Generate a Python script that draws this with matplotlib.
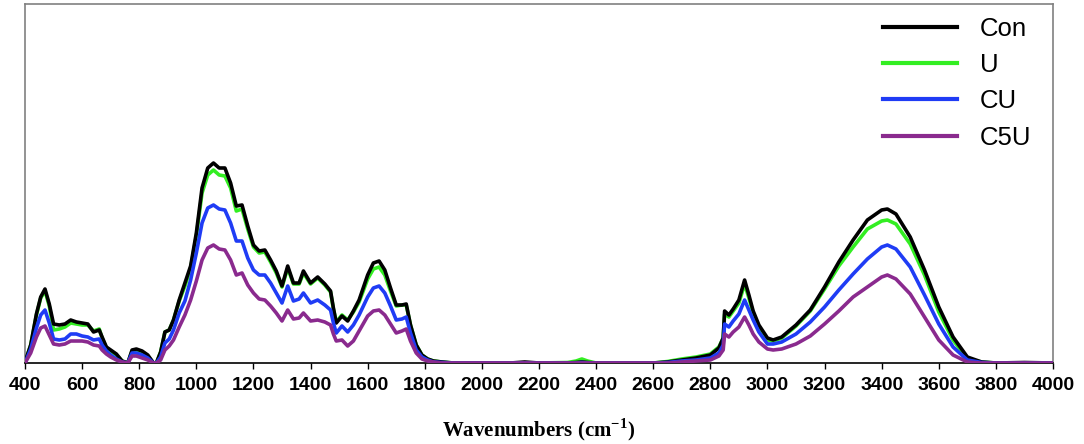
import numpy as np
import matplotlib
matplotlib.use('Agg')
import matplotlib.pyplot as plt

# wavenumber grid (cm-1) shared by all four spectra
wavenumber = [
    400, 420, 440, 455, 470, 485, 500, 520, 540, 560,
    580, 600, 620, 640, 660, 670, 685, 700, 720, 740,
    760, 775, 790, 810, 830, 850, 860, 875, 890, 905,
    920, 940, 960, 980, 1000, 1020, 1040, 1060, 1080, 1100,
    1120, 1140, 1160, 1180, 1200, 1220, 1240, 1260, 1280, 1300,
    1320, 1340, 1360, 1375, 1400, 1425, 1450, 1470, 1480, 1490,
    1510, 1530, 1550, 1570, 1600, 1620, 1640, 1660, 1680, 1700,
    1720, 1735, 1750, 1770, 1790, 1810, 1830, 1860, 1900, 2000,
    2100, 2150, 2200, 2300, 2330, 2350, 2370, 2400, 2500, 2600,
    2650, 2700, 2750, 2800, 2830, 2845, 2850, 2865, 2880, 2900,
    2920, 2935, 2950, 2970, 3000, 3020, 3050, 3100, 3150, 3200,
    3250, 3300, 3350, 3400, 3420, 3450, 3500, 3550, 3600, 3650,
    3700, 3750, 3800, 3900, 4000,
]

# absorbance (arbitrary units)
con = [
    1, 18, 49, 66, 74, 59, 39, 38, 39, 43,
    41, 40, 39, 31, 33, 26, 16, 13, 9, 2,
    0, 13, 14, 12, 8, 0, 0, 11, 31, 33,
    43, 63, 80, 97, 130, 175, 195, 200, 195, 195,
    180, 157, 158, 137, 118, 112, 113, 103, 92, 77,
    97, 80, 80, 92, 80, 86, 79, 72, 55, 40,
    47, 42, 52, 63, 88, 100, 102, 93, 75, 58,
    58, 59, 38, 18, 8, 4, 2, 1, 0, 0,
    0, 1, 0, 0, 0.5, 1, 0.5, 0, 0, 0,
    1, 3, 5, 8, 15, 25, 52, 48, 54, 63,
    83, 68, 52, 38, 25, 23, 26, 38, 53, 76,
    101, 123, 143, 153, 154, 149, 126, 93, 56, 26,
    6, 1, 0, 0.5, 0,
]
u = [
    1, 18, 48, 65, 72, 57, 33, 34, 36, 40,
    39, 38, 38, 32, 34, 25, 15, 12, 8, 2,
    0, 12, 13, 11, 7, 0, 0, 11, 31, 33,
    43, 62, 77, 95, 127, 170, 188, 193, 188, 187,
    175, 152, 154, 134, 116, 110, 111, 101, 90, 76,
    95, 79, 79, 90, 79, 85, 78, 71, 54, 41,
    48, 43, 51, 61, 84, 94, 96, 88, 72, 57,
    58, 58, 38, 18, 8, 4, 2, 1, 0, 0,
    0, 0, 0, 0.5, 2, 4, 2, 0, 0, 0,
    1.5, 4, 6, 9, 16, 25, 49, 46, 52, 60,
    79, 65, 50, 36, 23, 22, 25, 37, 52, 74,
    97, 116, 134, 142, 143, 139, 119, 88, 51, 23,
    4, 1, 0, 0, 0,
]
cu = [
    0, 14, 35, 48, 53, 40, 24, 23, 24, 29,
    29, 27, 26, 23, 24, 18, 12, 8, 4, 1,
    0, 10, 10, 8, 5, 0, 0, 6, 20, 24,
    33, 50, 62, 83, 110, 140, 155, 158, 154, 153,
    140, 122, 122, 105, 93, 88, 88, 80, 70, 60,
    77, 62, 64, 70, 60, 63, 58, 53, 40, 30,
    37, 31, 38, 48, 66, 75, 77, 70, 57, 43,
    44, 46, 30, 13, 6, 3, 1, 0.5, 0, 0,
    0, 0, 0, 0, 0, 0.5, 0, 0, 0, 0,
    0.5, 2, 3, 5, 10, 18, 39, 36, 42, 49,
    63, 53, 43, 31, 19, 19, 21, 29, 41, 56,
    73, 89, 104, 116, 118, 114, 96, 68, 39, 16,
    3, 0.5, 0, 0, 0,
]
c5u = [
    0, 10, 26, 35, 37, 28, 19, 18, 19, 22,
    22, 22, 21, 18, 17, 13, 9, 6, 3, 1,
    0, 7, 7, 5, 3, 0, 0, 3, 13, 17,
    23, 36, 48, 63, 82, 103, 115, 118, 114, 113,
    103, 88, 90, 78, 70, 64, 63, 57, 50, 42,
    53, 44, 45, 50, 42, 43, 41, 38, 29, 22,
    23, 17, 22, 32, 47, 52, 53, 48, 39, 30,
    32, 34, 22, 10, 4, 2, 1, 0, 0, 0,
    0, 0, 0, 0, 0, 0, 0, 0, 0, 0,
    0, 1, 2, 3, 7, 13, 29, 26, 31, 36,
    46, 38, 29, 21, 14, 13, 14, 19, 27, 39,
    52, 66, 76, 86, 88, 84, 69, 46, 23, 8,
    1, 0, 0, 0, 0,
]

labels = ['Con', 'U', 'CU', 'C5U']
colors = ['#000000', '#33ee22', '#1f3cf5', '#8a2a8e']
zorders = [3, 2, 4, 5]   # black sits over green, as in the original
xticks = list(range(400, 4001, 200))

plt.rcParams['font.family'] = 'Liberation Sans'
plt.rcParams['mathtext.fontset'] = 'custom'
plt.rcParams['mathtext.bf'] = 'Liberation Serif:bold'
plt.rcParams['mathtext.rm'] = 'Liberation Serif:bold'

fig = plt.figure(figsize=(10.84, 4.44), dpi=100)
ax = fig.add_axes([25 / 1084, 81 / 444, 1028 / 1084, 359 / 444])

for ys, lab, col, z in zip([con, u, cu, c5u], labels, colors, zorders):
    ax.plot(wavenumber, ys, color=col, lw=2.6, label=lab, zorder=z,
            solid_joinstyle='round')

ax.set_xlim(400, 4000)
ax.set_ylim(0, 359)
ax.set_xticks(xticks)
ax.set_xticklabels([str(t) for t in xticks], fontweight='bold', fontsize=14)
ax.set_yticks([])
ax.tick_params(axis='x', length=4, width=1, color='black', pad=6)

for side in ['top', 'left', 'right']:
    ax.spines[side].set_color('#808080')
    ax.spines[side].set_linewidth(1.2)
ax.spines['bottom'].set_color('black')
ax.spines['bottom'].set_linewidth(1.2)

ax.set_xlabel(r'Wavenumbers (cm$^{\mathbf{-1}}$)', fontfamily='Liberation Serif',
              fontweight='bold', fontsize=15, labelpad=16)

h, l = ax.get_legend_handles_labels()
leg = ax.legend(h, l, loc='upper left', bbox_to_anchor=(0.8346, 0.965), frameon=False,
                fontsize=18.5, handlelength=2.88, handletextpad=0.9, labelspacing=0.48,
                borderpad=0, borderaxespad=0)
for line in leg.get_lines():
    line.set_linewidth(3)

fig.savefig('out.png', dpi=100)
